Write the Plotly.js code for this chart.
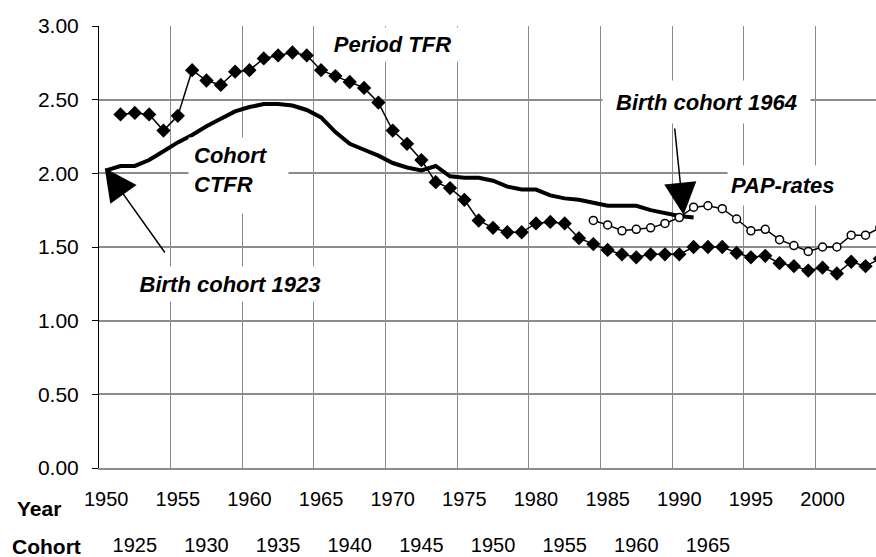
<!DOCTYPE html>
<html><head><meta charset="utf-8">
<script src="https://cdn.plot.ly/plotly-3.0.1.min.js"></script>
<style>html,body{margin:0;padding:0;background:#fff}#chart{width:876px;height:557px}</style>
</head><body><div id="chart"></div>
<script>
// Period TFR (calendar years 1951-2004)
const periodYears = [1951,1952,1953,1954,1955,1956,1957,1958,1959,1960,1961,1962,1963,1964,1965,1966,1967,1968,1969,1970,1971,1972,1973,1974,1975,1976,1977,1978,1979,1980,1981,1982,1983,1984,1985,1986,1987,1988,1989,1990,1991,1992,1993,1994,1995,1996,1997,1998,1999,2000,2001,2002,2003,2004];
const periodTFR = [2.40,2.41,2.40,2.29,2.39,2.70,2.63,2.60,2.69,2.70,2.78,2.80,2.82,2.80,2.70,2.66,2.62,2.58,2.48,2.29,2.20,2.09,1.94,1.90,1.82,1.68,1.63,1.60,1.60,1.66,1.67,1.66,1.56,1.52,1.48,1.45,1.43,1.45,1.45,1.45,1.50,1.50,1.50,1.46,1.43,1.44,1.39,1.37,1.34,1.36,1.32,1.40,1.37,1.42];
// PAP-rates (calendar years 1984-2004)
const papYears = [1984,1985,1986,1987,1988,1989,1990,1991,1992,1993,1994,1995,1996,1997,1998,1999,2000,2001,2002,2003,2004];
const papRates = [1.68,1.65,1.61,1.62,1.63,1.66,1.70,1.77,1.78,1.76,1.69,1.61,1.62,1.55,1.51,1.47,1.50,1.50,1.58,1.58,1.63];
// Cohort CTFR (birth cohorts 1923-1964)
const cohortBirth = [1923,1924,1925,1926,1927,1928,1929,1930,1931,1932,1933,1934,1935,1936,1937,1938,1939,1940,1941,1942,1943,1944,1945,1946,1947,1948,1949,1950,1951,1952,1953,1954,1955,1956,1957,1958,1959,1960,1961,1962,1963,1964];
const cohortCTFR = [2.02,2.05,2.05,2.09,2.15,2.21,2.26,2.32,2.37,2.42,2.45,2.47,2.47,2.46,2.43,2.38,2.28,2.20,2.16,2.12,2.07,2.04,2.02,2.05,1.98,1.97,1.97,1.95,1.91,1.89,1.89,1.85,1.83,1.82,1.80,1.78,1.78,1.78,1.75,1.73,1.71,1.70];
// axis labels
const yearTicks = [1950,1955,1960,1965,1970,1975,1980,1985,1990,1995,2000];
const cohortTicks = [1925,1930,1935,1940,1945,1950,1955,1960,1965];
const cohortLag = 27; // cohort c is plotted against calendar year c+27

const xr = [1949.5, 2003.73];
const xrC = [xr[0]-cohortLag, xr[1]-cohortLag];
const FONT = '"Liberation Sans", Arial, Helvetica, sans-serif';

const traces = [
  {x: periodYears, y: periodTFR, xaxis:'x', yaxis:'y', mode:'lines+markers', type:'scatter',
   line:{color:'#000', width:1.5}, marker:{symbol:'diamond', size:11, color:'#000'}},
  {x: cohortBirth, y: cohortCTFR, xaxis:'x2', yaxis:'y', mode:'lines', type:'scatter',
   line:{color:'#000', width:4}},
  {x: papYears, y: papRates, xaxis:'x3', yaxis:'y', mode:'lines+markers', type:'scatter',
   line:{color:'#000', width:1.5}, marker:{symbol:'circle', size:8, color:'#fff', line:{color:'#000', width:1.5}}}
];

const bi = s => '<b><i>' + s + '</i></b>';
const annFont = {family: FONT, size: 22, color:'#000'};
const arrowCommon = {text:'', showarrow:true, arrowhead:2, arrowsize:4.3, arrowwidth:1.5, arrowcolor:'#000', axref:'x', ayref:'y', xref:'x', yref:'y', standoff:0};

const layout = {
  width:876, height:557,
  margin:{l:99, r:0, t:26, b:89, pad:0},
  paper_bgcolor:'#fff', plot_bgcolor:'#fff',
  showlegend:false,
  font:{family:FONT, size:20, color:'#000'},
  xaxis:{range:xr, tickmode:'array', tickvals:yearTicks, ticktext:yearTicks.map(String),
         showgrid:false, zeroline:false, showline:true, linecolor:'#8c8c8c', linewidth:2,
         ticks:'', ticklabelstandoff:12, tickfont:{size:20}, fixedrange:true},
  xaxis2:{overlaying:'x', anchor:'y', range:xrC, tickmode:'array', tickvals:cohortTicks, ticktext:cohortTicks.map(String),
          showgrid:false, zeroline:false, showline:false, ticks:'', ticklabelstandoff:63, tickfont:{size:20}, fixedrange:true},
  xaxis3:{overlaying:'x', anchor:'y', range:xr, tickmode:'linear', tick0:1949.5, dtick:5,
          showgrid:true, gridcolor:'#8a8a8a', gridwidth:1, showticklabels:false, ticks:'', zeroline:false, showline:false, fixedrange:true},
  yaxis:{range:[0,3], tickmode:'linear', tick0:0, dtick:0.5, tickformat:'.2f',
         showgrid:true, gridcolor:'#8c8c8c', gridwidth:2, zeroline:false,
         showline:true, linecolor:'#000', linewidth:1, ticks:'outside', ticklen:6, tickcolor:'#000', tickwidth:1,
         ticklabelstandoff:9, tickfont:{size:21}, fixedrange:true},
  annotations:[
    {text:bi('Period TFR'), xref:'x', yref:'y', x:1969.96, y:2.875, showarrow:false, font:annFont,
     bgcolor:'#fff', borderpad:3, width:139, height:27},
    {text:bi('Cohort')+'<br>'+bi('CTFR'), xref:'x', yref:'y', x:1955.69, y:1.985, xanchor:'left', align:'left', valign:'top', showarrow:false, font:annFont,
     bgcolor:'#fff', borderpad:5, width:89, height:65},
    {text:bi('Birth cohort 1923'), xref:'x', yref:'y', x:1958.62, y:1.252, showarrow:false, font:annFont,
     bgcolor:'#fff', borderpad:3, width:198, height:28},
    {text:bi('Birth cohort 1964'), xref:'x', yref:'y', x:1991.87, y:2.485, showarrow:false, font:annFont,
     bgcolor:'#fff', borderpad:3, width:201, height:36},
    {text:bi('PAP-rates'), xref:'x', yref:'y', x:1993.30, y:1.915, xanchor:'left', align:'left', showarrow:false, font:annFont,
     bgcolor:'#fff', borderpad:3, width:150, height:33},
    Object.assign({x:1949.9, y:2.036, ax:1954.17, ay:1.4525}, arrowCommon),
    Object.assign({x:1990.3, y:1.717, ax:1989.67, ay:2.3145}, arrowCommon),
    {text:'<b>Year</b>', xref:'paper', yref:'paper', x:-0.0772, y:-0.0905, xanchor:'center', yanchor:'middle', showarrow:false, font:{family:FONT, size:21, color:'#000'}},
    {text:'<b>Cohort</b>', xref:'paper', yref:'paper', x:-0.0676, y:-0.1787, xanchor:'center', yanchor:'middle', showarrow:false, font:{family:FONT, size:21, color:'#000'}}
  ]
};

Plotly.newPlot('chart', traces, layout, {staticPlot:true, displayModeBar:false});
</script>
</body></html>
